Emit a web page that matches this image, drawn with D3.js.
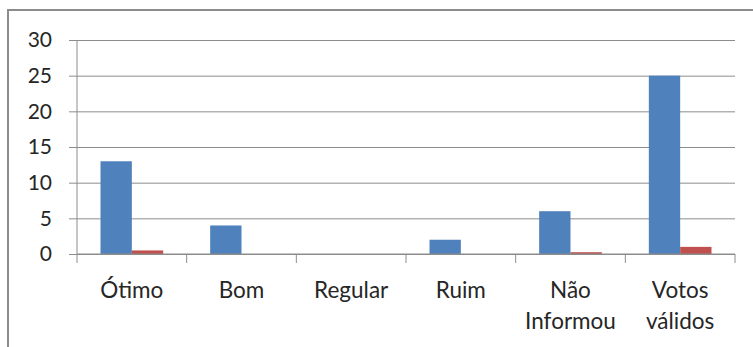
<!DOCTYPE html>
<html>
<head>
<meta charset="utf-8">
<script src="https://cdn.jsdelivr.net/npm/d3@7"></script>
<style>
  html, body { margin: 0; padding: 0; background: #fff; }
  svg { display: block; }
  text { font-family: Lato, "Open Sans", "DejaVu Sans", sans-serif; fill: #262626; }
</style>
</head>
<body>
<svg id="chart" width="753" height="347"></svg>
<script>
// Categories (multi-line labels split on "\n")
const categories = ["Ótimo", "Bom", "Regular", "Ruim", "Não\nInformou", "Votos\nválidos"];
// Series values
const seriesA = [13, 4, 0, 2, 6, 25];
const seriesB = [0.5, 0, 0, 0, 0.25, 1];
// Y axis ticks
const yTicks = [0, 5, 10, 15, 20, 25, 30];

const colors = ["#4f81bd", "#c0504d"];

const svg = d3.select("#chart");
const W = 753, H = 347;

// Chart-area frame (extends past the right and bottom edges)
svg.append("rect")
  .attr("x", 8).attr("y", 10)
  .attr("width", W + 20).attr("height", H + 20)
  .attr("fill", "#fff")
  .attr("stroke", "#8c8c8c")
  .attr("stroke-width", 2);

const plot = { left: 77, right: 735, top: 40, bottom: 254 };

const x = d3.scaleBand()
  .domain(categories)
  .range([plot.left, plot.right])
  .paddingInner(0)
  .paddingOuter(0);

const y = d3.scaleLinear()
  .domain([0, 30])
  .range([plot.bottom, plot.top]);

// Horizontal gridlines with left tick marks
const grid = svg.append("g")
  .attr("transform", `translate(${plot.left},0)`)
  .call(d3.axisLeft(y).tickValues(yTicks).tickSize(-(plot.right - plot.left)).tickFormat(""));
grid.select(".domain").remove();
grid.selectAll(".tick line")
  .attr("x1", -8)
  .attr("stroke", "#8c8c8c")
  .attr("stroke-width", 1);

// Y tick labels
const yAxis = svg.append("g")
  .attr("transform", `translate(${plot.left},0)`)
  .call(d3.axisLeft(y).tickValues(yTicks).tickSize(0).tickPadding(25));
yAxis.select(".domain").remove();
yAxis.selectAll("text")
  .style("font-size", "21px")
  .attr("fill", "#262626");

// Vertical axis line
svg.append("line")
  .attr("x1", plot.left).attr("x2", plot.left)
  .attr("y1", plot.top).attr("y2", plot.bottom + 9)
  .attr("stroke", "#8c8c8c");

// Bars
const bw = x.bandwidth();
const barW = bw / 3.5;
const series = [seriesA, seriesB];
series.forEach((vals, si) => {
  svg.append("g").selectAll("rect")
    .data(vals)
    .join("rect")
    .attr("x", (d, i) => x(categories[i]) + (bw - 2 * barW) / 2 + si * barW)
    .attr("y", d => y(d))
    .attr("width", barW)
    .attr("height", d => y(0) - y(d))
    .attr("fill", colors[si]);
});

// Category axis
const xAxis = svg.append("g")
  .attr("transform", `translate(0,${plot.bottom})`);
xAxis.append("line")
  .attr("x1", plot.left).attr("x2", plot.right)
  .attr("y1", 0).attr("y2", 0)
  .attr("stroke", "#8c8c8c");
const bounds = categories.map(c => x(c)).concat([plot.right]);
xAxis.selectAll("line.tk")
  .data(bounds.slice(1))
  .join("line")
  .attr("class", "tk")
  .attr("x1", d => d).attr("x2", d => d)
  .attr("y1", 0).attr("y2", 9)
  .attr("stroke", "#8c8c8c");

xAxis.selectAll("text.cat")
  .data(categories)
  .join("text")
  .attr("class", "cat")
  .attr("text-anchor", "middle")
  .attr("x", d => x(d) + bw / 2)
  .attr("y", 44)
  .style("font-size", "22.5px")
  .each(function(d) {
    const lines = d.split("\n");
    d3.select(this).selectAll("tspan")
      .data(lines)
      .join("tspan")
      .attr("x", x(d) + bw / 2)
      .attr("dy", (l, i) => i === 0 ? 0 : 31)
      .text(l => l);
  });
</script>
</body>
</html>
